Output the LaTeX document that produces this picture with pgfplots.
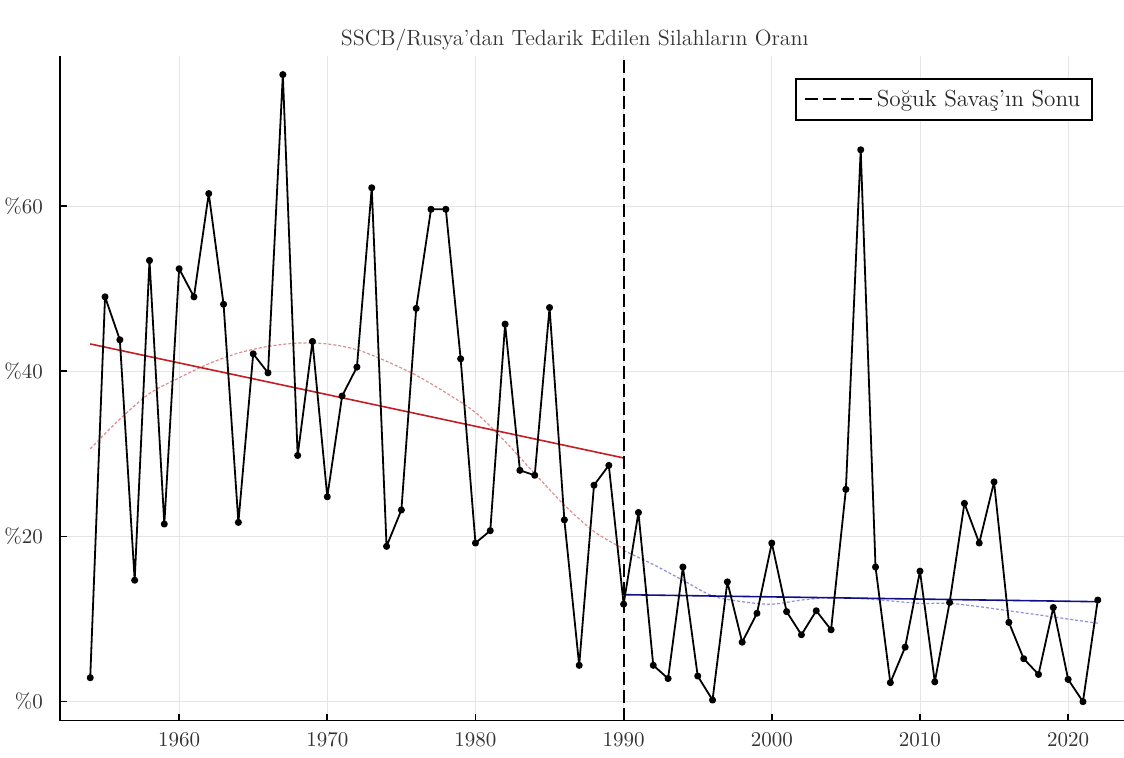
\documentclass[border=0pt]{standalone}
\usepackage{fontspec}
\usepackage{pgfplots}
\pgfplotsset{compat=1.18}
\definecolor{trendred}{RGB}{195,30,35}
\definecolor{trendblue}{RGB}{15,15,135}
\definecolor{smoothred}{RGB}{225,140,140}
\definecolor{smoothblue}{RGB}{145,145,215}
\begin{document}
\begin{tikzpicture}
\useasboundingbox (-30pt,-18.25pt) rectangle (532pt,360.25pt);
\begin{axis}[
  at={(0,0)}, anchor=south west,
  scale only axis,
  width=534pt, height=332.45pt,
  xmin=1951.96, xmax=2024.04,
  ymin=-2.28, ymax=78.2,
  axis lines=left,
  axis line style={-, line width=0.8pt},
  tick align=inside,
  major tick length=3.5pt,
  tick style={black, line width=0.8pt},
  xtick={1960,1970,1980,1990,2000,2010,2020},
  xticklabels={1960,1970,1980,1990,2000,2010,2020},
  ytick={0,20,40,60},
  yticklabels={\%0,\%20,\%40,\%60},
  ticklabel style={font=\fontsize{10.5}{12}\selectfont, text=black!80},
  xticklabel style={yshift=-2.5pt},
  yticklabel style={xshift=-5pt},
  grid=major,
  major grid style={gray!20, line width=0.4pt},
  title={SSCB/Rusya'dan Tedarik Edilen Silahların Oranı},
  title style={font=\fontsize{11}{13}\selectfont, text=black!80, at={(axis description cs:0.482,1.0055)}, anchor=center},
  legend style={at={(axis description cs:0.9672,0.9663)}, anchor=north east,
    draw=black, line width=0.8pt, font=\fontsize{11.6}{14}\selectfont, text=black!85,
    inner xsep=4pt, inner ysep=3.5pt},
  legend image code/.code={\draw[#1] (0pt,0pt) -- (33.5pt,0pt);},
  legend cell align=left,
  clip=false,
]
% smoothed curves (loess-like)
\addplot[forget plot, smoothred, line width=0.6pt, dash pattern=on 1.5pt off 1pt, smooth] coordinates {
(1954,30.6) (1956,34.2) (1958,37.3) (1960,39.2) (1962,40.9) (1964,42.2) (1966,43.0) (1968,43.4) (1970,43.3)
(1972,42.6) (1974,41.2) (1976,39.5) (1978,37.4) (1980,35.0) (1982,31.5) (1984,27.6) (1986,23.8) (1988,20.6) (1990,18.5)};
\addplot[forget plot, smoothblue, line width=0.6pt, dash pattern=on 1.5pt off 1pt, smooth] coordinates {
(1990,18.3) (1992,16.6) (1994,14.7) (1996,12.8) (1998,12.1) (2000,11.8) (2002,12.3) (2004,12.6) (2006,12.5)
(2008,12.2) (2010,11.9) (2012,11.9) (2014,11.5) (2016,11.0) (2018,10.5) (2020,10.0) (2022,9.5)};
% linear trends
\addplot[forget plot, trendred, line width=0.8pt] coordinates {(1954,43.3) (1990,29.5)};
\addplot[forget plot, trendblue, line width=0.8pt] coordinates {(1990,12.95) (2022,12.1)};
% data
\addplot[forget plot, black, line width=0.9pt, line join=round, mark=*, mark size=1.3pt] coordinates {
(1954,2.9) (1955,49.0) (1956,43.8) (1957,14.7) (1958,53.4) (1959,21.5) (1960,52.4) (1961,49.0) (1962,61.5)
(1963,48.1) (1964,21.7) (1965,42.1) (1966,39.8) (1967,75.9) (1968,29.8) (1969,43.6) (1970,24.8) (1971,37.0)
(1972,40.5) (1973,62.2) (1974,18.8) (1975,23.2) (1976,47.6) (1977,59.6) (1978,59.6) (1979,41.5) (1980,19.2)
(1981,20.7) (1982,45.7) (1983,28.0) (1984,27.4) (1985,47.7) (1986,22.0) (1987,4.4) (1988,26.2) (1989,28.6)
(1990,11.8) (1991,22.9) (1992,4.4) (1993,2.8) (1994,16.3) (1995,3.1) (1996,0.2) (1997,14.5) (1998,7.2)
(1999,10.7) (2000,19.2) (2001,10.9) (2002,8.1) (2003,11.0) (2004,8.7) (2005,25.7) (2006,66.8) (2007,16.3)
(2008,2.3) (2009,6.6) (2010,15.8) (2011,2.4) (2012,12.0) (2013,24.0) (2014,19.2) (2015,26.6) (2016,9.6)
(2017,5.2) (2018,3.3) (2019,11.4) (2020,2.7) (2021,0.0) (2022,12.3)};
% end of cold war
\addplot[black, line width=1pt, dash pattern=on 6.5pt off 2.5pt] coordinates {(1990,-2.28) (1990,78.2)};
\addlegendentry{Soğuk Savaş'ın Sonu}
\end{axis}
\end{tikzpicture}
\end{document}
